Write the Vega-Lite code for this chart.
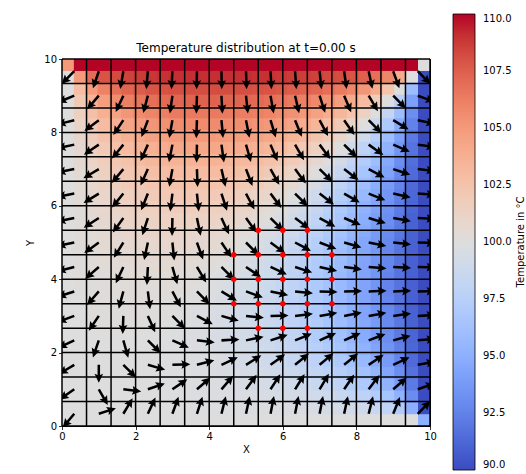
{
"$schema": "https://vega.github.io/schema/vega-lite/v6.json",
"width": 368, "height": 367,
"autosize": {"type": "none"},
"padding": {"left": 62, "top": 59, "right": 96, "bottom": 48},
"title": {"text": "Temperature distribution at t=0.00 s", "fontSize": 12, "font": "DejaVu Sans", "fontWeight": "normal", "color": "black", "anchor": "middle", "frame": "group", "offset": 0, "dy": 41},
"config": {"view": {"stroke": "black", "strokeWidth": 1, "fill": "#dddddd"}, "font": "DejaVu Sans"},
"datasets": {
"lines": [{"p":0},{"p":0.6667},{"p":1.3333},{"p":2},{"p":2.6667},{"p":3.3333},{"p":4},{"p":4.6667},{"p":5.3333},{"p":6},{"p":6.6667},{"p":7.3333},{"p":8},{"p":8.6667},{"p":9.3333},{"p":10}],
"dots": [{"x":5.3333,"y":5.3333},{"x":6,"y":5.3333},{"x":6.6667,"y":5.3333},
{"x":4.6667,"y":4.6667},{"x":5.3333,"y":4.6667},{"x":6,"y":4.6667},{"x":6.6667,"y":4.6667},{"x":7.3333,"y":4.6667},
{"x":4.6667,"y":4},{"x":5.3333,"y":4},{"x":6,"y":4},{"x":6.6667,"y":4},{"x":7.3333,"y":4},
{"x":4.6667,"y":3.3333},{"x":5.3333,"y":3.3333},{"x":6,"y":3.3333},{"x":6.6667,"y":3.3333},{"x":7.3333,"y":3.3333},
{"x":5.3333,"y":2.6667},{"x":6,"y":2.6667},{"x":6.6667,"y":2.6667}],
"arrows": [
{"x":0.3333,"y":0.3333,"a":220},{"x":1,"y":0.3333,"a":72},{"x":1.6667,"y":0.3333,"a":31},{"x":2.3333,"y":0.3333,"a":25},{"x":3,"y":0.3333,"a":20},{"x":3.6667,"y":0.3333,"a":18},{"x":4.3333,"y":0.3333,"a":14},{"x":5,"y":0.3333,"a":12},{"x":5.6667,"y":0.3333,"a":11},{"x":6.3333,"y":0.3333,"a":11},{"x":7,"y":0.3333,"a":11},{"x":7.6667,"y":0.3333,"a":12},{"x":8.3333,"y":0.3333,"a":14},{"x":9,"y":0.3333,"a":22},{"x":9.6667,"y":0.3333,"a":45},
{"x":0.3333,"y":1,"a":235},{"x":1,"y":1,"a":150},{"x":1.6667,"y":1,"a":97},{"x":2.3333,"y":1,"a":71},{"x":3,"y":1,"a":56},{"x":3.6667,"y":1,"a":49},{"x":4.3333,"y":1,"a":41},{"x":5,"y":1,"a":36},{"x":5.6667,"y":1,"a":33},{"x":6.3333,"y":1,"a":32},{"x":7,"y":1,"a":31},{"x":7.6667,"y":1,"a":34},{"x":8.3333,"y":1,"a":37},{"x":9,"y":1,"a":49},{"x":9.6667,"y":1,"a":71},
{"x":0.3333,"y":1.6667,"a":239},{"x":1,"y":1.6667,"a":180},{"x":1.6667,"y":1.6667,"a":135},{"x":2.3333,"y":1.6667,"a":106},{"x":3,"y":1.6667,"a":88},{"x":3.6667,"y":1.6667,"a":75},{"x":4.3333,"y":1.6667,"a":65},{"x":5,"y":1.6667,"a":58},{"x":5.6667,"y":1.6667,"a":54},{"x":6.3333,"y":1.6667,"a":51},{"x":7,"y":1.6667,"a":50},{"x":7.6667,"y":1.6667,"a":51},{"x":8.3333,"y":1.6667,"a":56},{"x":9,"y":1.6667,"a":65},{"x":9.6667,"y":1.6667,"a":80},
{"x":0.3333,"y":2.3333,"a":245},{"x":1,"y":2.3333,"a":199},{"x":1.6667,"y":2.3333,"a":164},{"x":2.3333,"y":2.3333,"a":135},{"x":3,"y":2.3333,"a":114},{"x":3.6667,"y":2.3333,"a":97},{"x":4.3333,"y":2.3333,"a":87},{"x":5,"y":2.3333,"a":78},{"x":5.6667,"y":2.3333,"a":72},{"x":6.3333,"y":2.3333,"a":68},{"x":7,"y":2.3333,"a":66},{"x":7.6667,"y":2.3333,"a":66},{"x":8.3333,"y":2.3333,"a":69},{"x":9,"y":2.3333,"a":75},{"x":9.6667,"y":2.3333,"a":85},
{"x":0.3333,"y":3,"a":250},{"x":1,"y":3,"a":214},{"x":1.6667,"y":3,"a":182},{"x":2.3333,"y":3,"a":156},{"x":3,"y":3,"a":135},{"x":3.6667,"y":3,"a":118},{"x":4.3333,"y":3,"a":106},{"x":5,"y":3,"a":96},{"x":5.6667,"y":3,"a":89},{"x":6.3333,"y":3,"a":83},{"x":7,"y":3,"a":80},{"x":7.6667,"y":3,"a":79},{"x":8.3333,"y":3,"a":80},{"x":9,"y":3,"a":82},{"x":9.6667,"y":3,"a":87},
{"x":0.3333,"y":3.6667,"a":252},{"x":1,"y":3.6667,"a":221},{"x":1.6667,"y":3.6667,"a":195},{"x":2.3333,"y":3.6667,"a":173},{"x":3,"y":3.6667,"a":152},{"x":3.6667,"y":3.6667,"a":135},{"x":4.3333,"y":3.6667,"a":121},{"x":5,"y":3.6667,"a":110},{"x":5.6667,"y":3.6667,"a":102},{"x":6.3333,"y":3.6667,"a":96},{"x":7,"y":3.6667,"a":92},{"x":7.6667,"y":3.6667,"a":89},{"x":8.3333,"y":3.6667,"a":88},{"x":9,"y":3.6667,"a":88},{"x":9.6667,"y":3.6667,"a":89},
{"x":0.3333,"y":4.3333,"a":256},{"x":1,"y":4.3333,"a":229},{"x":1.6667,"y":4.3333,"a":205},{"x":2.3333,"y":4.3333,"a":183},{"x":3,"y":4.3333,"a":164},{"x":3.6667,"y":4.3333,"a":149},{"x":4.3333,"y":4.3333,"a":135},{"x":5,"y":4.3333,"a":124},{"x":5.6667,"y":4.3333,"a":115},{"x":6.3333,"y":4.3333,"a":108},{"x":7,"y":4.3333,"a":103},{"x":7.6667,"y":4.3333,"a":98},{"x":8.3333,"y":4.3333,"a":95},{"x":9,"y":4.3333,"a":93},{"x":9.6667,"y":4.3333,"a":91},
{"x":0.3333,"y":5,"a":258},{"x":1,"y":5,"a":234},{"x":1.6667,"y":5,"a":212},{"x":2.3333,"y":5,"a":192},{"x":3,"y":5,"a":174},{"x":3.6667,"y":5,"a":160},{"x":4.3333,"y":5,"a":146},{"x":5,"y":5,"a":135},{"x":5.6667,"y":5,"a":126},{"x":6.3333,"y":5,"a":118},{"x":7,"y":5,"a":111},{"x":7.6667,"y":5,"a":106},{"x":8.3333,"y":5,"a":101},{"x":9,"y":5,"a":96},{"x":9.6667,"y":5,"a":92},
{"x":0.3333,"y":5.6667,"a":259},{"x":1,"y":5.6667,"a":237},{"x":1.6667,"y":5.6667,"a":216},{"x":2.3333,"y":5.6667,"a":198},{"x":3,"y":5.6667,"a":181},{"x":3.6667,"y":5.6667,"a":168},{"x":4.3333,"y":5.6667,"a":155},{"x":5,"y":5.6667,"a":144},{"x":5.6667,"y":5.6667,"a":135},{"x":6.3333,"y":5.6667,"a":127},{"x":7,"y":5.6667,"a":119},{"x":7.6667,"y":5.6667,"a":113},{"x":8.3333,"y":5.6667,"a":107},{"x":9,"y":5.6667,"a":100},{"x":9.6667,"y":5.6667,"a":93},
{"x":0.3333,"y":6.3333,"a":259},{"x":1,"y":6.3333,"a":238},{"x":1.6667,"y":6.3333,"a":219},{"x":2.3333,"y":6.3333,"a":202},{"x":3,"y":6.3333,"a":187},{"x":3.6667,"y":6.3333,"a":174},{"x":4.3333,"y":6.3333,"a":162},{"x":5,"y":6.3333,"a":152},{"x":5.6667,"y":6.3333,"a":143},{"x":6.3333,"y":6.3333,"a":135},{"x":7,"y":6.3333,"a":127},{"x":7.6667,"y":6.3333,"a":120},{"x":8.3333,"y":6.3333,"a":112},{"x":9,"y":6.3333,"a":103},{"x":9.6667,"y":6.3333,"a":94},
{"x":0.3333,"y":7,"a":259},{"x":1,"y":7,"a":239},{"x":1.6667,"y":7,"a":220},{"x":2.3333,"y":7,"a":204},{"x":3,"y":7,"a":190},{"x":3.6667,"y":7,"a":178},{"x":4.3333,"y":7,"a":167},{"x":5,"y":7,"a":159},{"x":5.6667,"y":7,"a":151},{"x":6.3333,"y":7,"a":143},{"x":7,"y":7,"a":135},{"x":7.6667,"y":7,"a":127},{"x":8.3333,"y":7,"a":118},{"x":9,"y":7,"a":108},{"x":9.6667,"y":7,"a":96},
{"x":0.3333,"y":7.6667,"a":258},{"x":1,"y":7.6667,"a":236},{"x":1.6667,"y":7.6667,"a":219},{"x":2.3333,"y":7.6667,"a":204},{"x":3,"y":7.6667,"a":191},{"x":3.6667,"y":7.6667,"a":181},{"x":4.3333,"y":7.6667,"a":172},{"x":5,"y":7.6667,"a":164},{"x":5.6667,"y":7.6667,"a":157},{"x":6.3333,"y":7.6667,"a":150},{"x":7,"y":7.6667,"a":143},{"x":7.6667,"y":7.6667,"a":135},{"x":8.3333,"y":7.6667,"a":125},{"x":9,"y":7.6667,"a":113},{"x":9.6667,"y":7.6667,"a":98},
{"x":0.3333,"y":8.3333,"a":256},{"x":1,"y":8.3333,"a":233},{"x":1.6667,"y":8.3333,"a":214},{"x":2.3333,"y":8.3333,"a":201},{"x":3,"y":8.3333,"a":190},{"x":3.6667,"y":8.3333,"a":182},{"x":4.3333,"y":8.3333,"a":175},{"x":5,"y":8.3333,"a":169},{"x":5.6667,"y":8.3333,"a":163},{"x":6.3333,"y":8.3333,"a":158},{"x":7,"y":8.3333,"a":152},{"x":7.6667,"y":8.3333,"a":145},{"x":8.3333,"y":8.3333,"a":135},{"x":9,"y":8.3333,"a":121},{"x":9.6667,"y":8.3333,"a":102},
{"x":0.3333,"y":9,"a":248},{"x":1,"y":9,"a":221},{"x":1.6667,"y":9,"a":205},{"x":2.3333,"y":9,"a":195},{"x":3,"y":9,"a":188},{"x":3.6667,"y":9,"a":182},{"x":4.3333,"y":9,"a":177},{"x":5,"y":9,"a":174},{"x":5.6667,"y":9,"a":170},{"x":6.3333,"y":9,"a":167},{"x":7,"y":9,"a":162},{"x":7.6667,"y":9,"a":157},{"x":8.3333,"y":9,"a":149},{"x":9,"y":9,"a":135},{"x":9.6667,"y":9,"a":110},
{"x":0.3333,"y":9.6667,"a":225},{"x":1,"y":9.6667,"a":199},{"x":1.6667,"y":9.6667,"a":190},{"x":2.3333,"y":9.6667,"a":185},{"x":3,"y":9.6667,"a":183},{"x":3.6667,"y":9.6667,"a":181},{"x":4.3333,"y":9.6667,"a":179},{"x":5,"y":9.6667,"a":178},{"x":5.6667,"y":9.6667,"a":177},{"x":6.3333,"y":9.6667,"a":176},{"x":7,"y":9.6667,"a":174},{"x":7.6667,"y":9.6667,"a":172},{"x":8.3333,"y":9.6667,"a":168},{"x":9,"y":9.6667,"a":160},{"x":9.6667,"y":9.6667,"a":135}
],
"cells": [
{"i":0,"j":0,"t":100},{"i":1,"j":0,"t":100},{"i":2,"j":0,"t":100},{"i":3,"j":0,"t":100},{"i":4,"j":0,"t":100},{"i":5,"j":0,"t":100},{"i":6,"j":0,"t":100},{"i":7,"j":0,"t":100},{"i":8,"j":0,"t":100},{"i":9,"j":0,"t":100},{"i":10,"j":0,"t":100},{"i":11,"j":0,"t":100},{"i":12,"j":0,"t":100},{"i":13,"j":0,"t":100},{"i":14,"j":0,"t":100},{"i":15,"j":0,"t":100},{"i":16,"j":0,"t":100},{"i":17,"j":0,"t":100},{"i":18,"j":0,"t":100},{"i":19,"j":0,"t":100},{"i":20,"j":0,"t":100},{"i":21,"j":0,"t":100},{"i":22,"j":0,"t":100},{"i":23,"j":0,"t":100},{"i":24,"j":0,"t":100},{"i":25,"j":0,"t":100},{"i":26,"j":0,"t":100},{"i":27,"j":0,"t":100},{"i":28,"j":0,"t":100},{"i":29,"j":0,"t":100},{"i":30,"j":0,"t":95},
{"i":0,"j":1,"t":100},{"i":1,"j":1,"t":100},{"i":2,"j":1,"t":100},{"i":3,"j":1,"t":100},{"i":4,"j":1,"t":100},{"i":5,"j":1,"t":100},{"i":6,"j":1,"t":100},{"i":7,"j":1,"t":100},{"i":8,"j":1,"t":100},{"i":9,"j":1,"t":100},{"i":10,"j":1,"t":100},{"i":11,"j":1,"t":99.9},{"i":12,"j":1,"t":99.9},{"i":13,"j":1,"t":99.9},{"i":14,"j":1,"t":99.9},{"i":15,"j":1,"t":99.8},{"i":16,"j":1,"t":99.8},{"i":17,"j":1,"t":99.8},{"i":18,"j":1,"t":99.7},{"i":19,"j":1,"t":99.6},{"i":20,"j":1,"t":99.6},{"i":21,"j":1,"t":99.5},{"i":22,"j":1,"t":99.4},{"i":23,"j":1,"t":99.3},{"i":24,"j":1,"t":99.1},{"i":25,"j":1,"t":98.9},{"i":26,"j":1,"t":98.5},{"i":27,"j":1,"t":98},{"i":28,"j":1,"t":97.1},{"i":29,"j":1,"t":95},{"i":30,"j":1,"t":90},
{"i":0,"j":2,"t":100},{"i":1,"j":2,"t":100},{"i":2,"j":2,"t":100},{"i":3,"j":2,"t":100},{"i":4,"j":2,"t":100},{"i":5,"j":2,"t":100},{"i":6,"j":2,"t":100},{"i":7,"j":2,"t":100},{"i":8,"j":2,"t":100},{"i":9,"j":2,"t":99.9},{"i":10,"j":2,"t":99.9},{"i":11,"j":2,"t":99.9},{"i":12,"j":2,"t":99.8},{"i":13,"j":2,"t":99.8},{"i":14,"j":2,"t":99.7},{"i":15,"j":2,"t":99.7},{"i":16,"j":2,"t":99.6},{"i":17,"j":2,"t":99.5},{"i":18,"j":2,"t":99.4},{"i":19,"j":2,"t":99.3},{"i":20,"j":2,"t":99.2},{"i":21,"j":2,"t":99},{"i":22,"j":2,"t":98.8},{"i":23,"j":2,"t":98.5},{"i":24,"j":2,"t":98.2},{"i":25,"j":2,"t":97.8},{"i":26,"j":2,"t":97.2},{"i":27,"j":2,"t":96.4},{"i":28,"j":2,"t":95.1},{"i":29,"j":2,"t":93},{"i":30,"j":2,"t":90},
{"i":0,"j":3,"t":100},{"i":1,"j":3,"t":100},{"i":2,"j":3,"t":100},{"i":3,"j":3,"t":100},{"i":4,"j":3,"t":100},{"i":5,"j":3,"t":100},{"i":6,"j":3,"t":100},{"i":7,"j":3,"t":100},{"i":8,"j":3,"t":99.9},{"i":9,"j":3,"t":99.9},{"i":10,"j":3,"t":99.9},{"i":11,"j":3,"t":99.8},{"i":12,"j":3,"t":99.8},{"i":13,"j":3,"t":99.7},{"i":14,"j":3,"t":99.6},{"i":15,"j":3,"t":99.5},{"i":16,"j":3,"t":99.4},{"i":17,"j":3,"t":99.3},{"i":18,"j":3,"t":99.2},{"i":19,"j":3,"t":99},{"i":20,"j":3,"t":98.8},{"i":21,"j":3,"t":98.5},{"i":22,"j":3,"t":98.3},{"i":23,"j":3,"t":97.9},{"i":24,"j":3,"t":97.4},{"i":25,"j":3,"t":96.9},{"i":26,"j":3,"t":96.2},{"i":27,"j":3,"t":95.2},{"i":28,"j":3,"t":93.9},{"i":29,"j":3,"t":92.1},{"i":30,"j":3,"t":90},
{"i":0,"j":4,"t":100},{"i":1,"j":4,"t":100},{"i":2,"j":4,"t":100},{"i":3,"j":4,"t":100},{"i":4,"j":4,"t":100},{"i":5,"j":4,"t":100},{"i":6,"j":4,"t":100},{"i":7,"j":4,"t":100},{"i":8,"j":4,"t":99.9},{"i":9,"j":4,"t":99.9},{"i":10,"j":4,"t":99.9},{"i":11,"j":4,"t":99.8},{"i":12,"j":4,"t":99.7},{"i":13,"j":4,"t":99.6},{"i":14,"j":4,"t":99.5},{"i":15,"j":4,"t":99.4},{"i":16,"j":4,"t":99.3},{"i":17,"j":4,"t":99.1},{"i":18,"j":4,"t":98.9},{"i":19,"j":4,"t":98.7},{"i":20,"j":4,"t":98.4},{"i":21,"j":4,"t":98.1},{"i":22,"j":4,"t":97.8},{"i":23,"j":4,"t":97.3},{"i":24,"j":4,"t":96.8},{"i":25,"j":4,"t":96.2},{"i":26,"j":4,"t":95.4},{"i":27,"j":4,"t":94.4},{"i":28,"j":4,"t":93.1},{"i":29,"j":4,"t":91.7},{"i":30,"j":4,"t":90},
{"i":0,"j":5,"t":100},{"i":1,"j":5,"t":100},{"i":2,"j":5,"t":100},{"i":3,"j":5,"t":100},{"i":4,"j":5,"t":100},{"i":5,"j":5,"t":100},{"i":6,"j":5,"t":100},{"i":7,"j":5,"t":100},{"i":8,"j":5,"t":99.9},{"i":9,"j":5,"t":99.9},{"i":10,"j":5,"t":99.8},{"i":11,"j":5,"t":99.8},{"i":12,"j":5,"t":99.7},{"i":13,"j":5,"t":99.6},{"i":14,"j":5,"t":99.4},{"i":15,"j":5,"t":99.3},{"i":16,"j":5,"t":99.1},{"i":17,"j":5,"t":98.9},{"i":18,"j":5,"t":98.7},{"i":19,"j":5,"t":98.4},{"i":20,"j":5,"t":98.1},{"i":21,"j":5,"t":97.8},{"i":22,"j":5,"t":97.4},{"i":23,"j":5,"t":96.9},{"i":24,"j":5,"t":96.3},{"i":25,"j":5,"t":95.6},{"i":26,"j":5,"t":94.8},{"i":27,"j":5,"t":93.8},{"i":28,"j":5,"t":92.7},{"i":29,"j":5,"t":91.4},{"i":30,"j":5,"t":90},
{"i":0,"j":6,"t":100},{"i":1,"j":6,"t":100},{"i":2,"j":6,"t":100},{"i":3,"j":6,"t":100},{"i":4,"j":6,"t":100},{"i":5,"j":6,"t":100},{"i":6,"j":6,"t":100},{"i":7,"j":6,"t":100},{"i":8,"j":6,"t":99.9},{"i":9,"j":6,"t":99.9},{"i":10,"j":6,"t":99.8},{"i":11,"j":6,"t":99.8},{"i":12,"j":6,"t":99.6},{"i":13,"j":6,"t":99.5},{"i":14,"j":6,"t":99.4},{"i":15,"j":6,"t":99.2},{"i":16,"j":6,"t":99},{"i":17,"j":6,"t":98.8},{"i":18,"j":6,"t":98.5},{"i":19,"j":6,"t":98.2},{"i":20,"j":6,"t":97.9},{"i":21,"j":6,"t":97.5},{"i":22,"j":6,"t":97},{"i":23,"j":6,"t":96.5},{"i":24,"j":6,"t":95.9},{"i":25,"j":6,"t":95.2},{"i":26,"j":6,"t":94.3},{"i":27,"j":6,"t":93.4},{"i":28,"j":6,"t":92.4},{"i":29,"j":6,"t":91.2},{"i":30,"j":6,"t":90},
{"i":0,"j":7,"t":100},{"i":1,"j":7,"t":100},{"i":2,"j":7,"t":100},{"i":3,"j":7,"t":100},{"i":4,"j":7,"t":100},{"i":5,"j":7,"t":100},{"i":6,"j":7,"t":100},{"i":7,"j":7,"t":100},{"i":8,"j":7,"t":100},{"i":9,"j":7,"t":99.9},{"i":10,"j":7,"t":99.8},{"i":11,"j":7,"t":99.8},{"i":12,"j":7,"t":99.6},{"i":13,"j":7,"t":99.5},{"i":14,"j":7,"t":99.3},{"i":15,"j":7,"t":99.2},{"i":16,"j":7,"t":98.9},{"i":17,"j":7,"t":98.7},{"i":18,"j":7,"t":98.4},{"i":19,"j":7,"t":98.1},{"i":20,"j":7,"t":97.7},{"i":21,"j":7,"t":97.2},{"i":22,"j":7,"t":96.7},{"i":23,"j":7,"t":96.2},{"i":24,"j":7,"t":95.5},{"i":25,"j":7,"t":94.8},{"i":26,"j":7,"t":94},{"i":27,"j":7,"t":93.1},{"i":28,"j":7,"t":92.1},{"i":29,"j":7,"t":91.1},{"i":30,"j":7,"t":90},
{"i":0,"j":8,"t":100},{"i":1,"j":8,"t":100},{"i":2,"j":8,"t":100},{"i":3,"j":8,"t":100.1},{"i":4,"j":8,"t":100.1},{"i":5,"j":8,"t":100.1},{"i":6,"j":8,"t":100.1},{"i":7,"j":8,"t":100},{"i":8,"j":8,"t":100},{"i":9,"j":8,"t":99.9},{"i":10,"j":8,"t":99.9},{"i":11,"j":8,"t":99.8},{"i":12,"j":8,"t":99.7},{"i":13,"j":8,"t":99.5},{"i":14,"j":8,"t":99.3},{"i":15,"j":8,"t":99.1},{"i":16,"j":8,"t":98.9},{"i":17,"j":8,"t":98.6},{"i":18,"j":8,"t":98.3},{"i":19,"j":8,"t":97.9},{"i":20,"j":8,"t":97.5},{"i":21,"j":8,"t":97.1},{"i":22,"j":8,"t":96.5},{"i":23,"j":8,"t":96},{"i":24,"j":8,"t":95.3},{"i":25,"j":8,"t":94.6},{"i":26,"j":8,"t":93.8},{"i":27,"j":8,"t":92.9},{"i":28,"j":8,"t":92},{"i":29,"j":8,"t":91},{"i":30,"j":8,"t":90},
{"i":0,"j":9,"t":100},{"i":1,"j":9,"t":100},{"i":2,"j":9,"t":100.1},{"i":3,"j":9,"t":100.1},{"i":4,"j":9,"t":100.1},{"i":5,"j":9,"t":100.1},{"i":6,"j":9,"t":100.1},{"i":7,"j":9,"t":100.1},{"i":8,"j":9,"t":100.1},{"i":9,"j":9,"t":100},{"i":10,"j":9,"t":99.9},{"i":11,"j":9,"t":99.8},{"i":12,"j":9,"t":99.7},{"i":13,"j":9,"t":99.5},{"i":14,"j":9,"t":99.4},{"i":15,"j":9,"t":99.1},{"i":16,"j":9,"t":98.9},{"i":17,"j":9,"t":98.6},{"i":18,"j":9,"t":98.2},{"i":19,"j":9,"t":97.9},{"i":20,"j":9,"t":97.4},{"i":21,"j":9,"t":96.9},{"i":22,"j":9,"t":96.4},{"i":23,"j":9,"t":95.8},{"i":24,"j":9,"t":95.1},{"i":25,"j":9,"t":94.4},{"i":26,"j":9,"t":93.6},{"i":27,"j":9,"t":92.8},{"i":28,"j":9,"t":91.9},{"i":29,"j":9,"t":91},{"i":30,"j":9,"t":90},
{"i":0,"j":10,"t":100},{"i":1,"j":10,"t":100},{"i":2,"j":10,"t":100.1},{"i":3,"j":10,"t":100.1},{"i":4,"j":10,"t":100.1},{"i":5,"j":10,"t":100.2},{"i":6,"j":10,"t":100.2},{"i":7,"j":10,"t":100.2},{"i":8,"j":10,"t":100.1},{"i":9,"j":10,"t":100.1},{"i":10,"j":10,"t":100},{"i":11,"j":10,"t":99.9},{"i":12,"j":10,"t":99.8},{"i":13,"j":10,"t":99.6},{"i":14,"j":10,"t":99.4},{"i":15,"j":10,"t":99.2},{"i":16,"j":10,"t":98.9},{"i":17,"j":10,"t":98.6},{"i":18,"j":10,"t":98.2},{"i":19,"j":10,"t":97.8},{"i":20,"j":10,"t":97.4},{"i":21,"j":10,"t":96.9},{"i":22,"j":10,"t":96.3},{"i":23,"j":10,"t":95.7},{"i":24,"j":10,"t":95},{"i":25,"j":10,"t":94.3},{"i":26,"j":10,"t":93.5},{"i":27,"j":10,"t":92.7},{"i":28,"j":10,"t":91.8},{"i":29,"j":10,"t":90.9},{"i":30,"j":10,"t":90},
{"i":0,"j":11,"t":100},{"i":1,"j":11,"t":100.1},{"i":2,"j":11,"t":100.1},{"i":3,"j":11,"t":100.2},{"i":4,"j":11,"t":100.2},{"i":5,"j":11,"t":100.2},{"i":6,"j":11,"t":100.2},{"i":7,"j":11,"t":100.2},{"i":8,"j":11,"t":100.2},{"i":9,"j":11,"t":100.2},{"i":10,"j":11,"t":100.1},{"i":11,"j":11,"t":100},{"i":12,"j":11,"t":99.9},{"i":13,"j":11,"t":99.7},{"i":14,"j":11,"t":99.5},{"i":15,"j":11,"t":99.3},{"i":16,"j":11,"t":99},{"i":17,"j":11,"t":98.7},{"i":18,"j":11,"t":98.3},{"i":19,"j":11,"t":97.9},{"i":20,"j":11,"t":97.4},{"i":21,"j":11,"t":96.9},{"i":22,"j":11,"t":96.3},{"i":23,"j":11,"t":95.7},{"i":24,"j":11,"t":95},{"i":25,"j":11,"t":94.3},{"i":26,"j":11,"t":93.5},{"i":27,"j":11,"t":92.6},{"i":28,"j":11,"t":91.8},{"i":29,"j":11,"t":90.9},{"i":30,"j":11,"t":90},
{"i":0,"j":12,"t":100},{"i":1,"j":12,"t":100.1},{"i":2,"j":12,"t":100.2},{"i":3,"j":12,"t":100.2},{"i":4,"j":12,"t":100.3},{"i":5,"j":12,"t":100.3},{"i":6,"j":12,"t":100.4},{"i":7,"j":12,"t":100.4},{"i":8,"j":12,"t":100.3},{"i":9,"j":12,"t":100.3},{"i":10,"j":12,"t":100.2},{"i":11,"j":12,"t":100.1},{"i":12,"j":12,"t":100},{"i":13,"j":12,"t":99.8},{"i":14,"j":12,"t":99.6},{"i":15,"j":12,"t":99.4},{"i":16,"j":12,"t":99.1},{"i":17,"j":12,"t":98.8},{"i":18,"j":12,"t":98.4},{"i":19,"j":12,"t":97.9},{"i":20,"j":12,"t":97.4},{"i":21,"j":12,"t":96.9},{"i":22,"j":12,"t":96.3},{"i":23,"j":12,"t":95.7},{"i":24,"j":12,"t":95},{"i":25,"j":12,"t":94.3},{"i":26,"j":12,"t":93.5},{"i":27,"j":12,"t":92.6},{"i":28,"j":12,"t":91.8},{"i":29,"j":12,"t":90.9},{"i":30,"j":12,"t":90},
{"i":0,"j":13,"t":100},{"i":1,"j":13,"t":100.1},{"i":2,"j":13,"t":100.2},{"i":3,"j":13,"t":100.3},{"i":4,"j":13,"t":100.4},{"i":5,"j":13,"t":100.4},{"i":6,"j":13,"t":100.5},{"i":7,"j":13,"t":100.5},{"i":8,"j":13,"t":100.5},{"i":9,"j":13,"t":100.5},{"i":10,"j":13,"t":100.4},{"i":11,"j":13,"t":100.3},{"i":12,"j":13,"t":100.2},{"i":13,"j":13,"t":100},{"i":14,"j":13,"t":99.8},{"i":15,"j":13,"t":99.5},{"i":16,"j":13,"t":99.2},{"i":17,"j":13,"t":98.9},{"i":18,"j":13,"t":98.5},{"i":19,"j":13,"t":98.1},{"i":20,"j":13,"t":97.6},{"i":21,"j":13,"t":97},{"i":22,"j":13,"t":96.4},{"i":23,"j":13,"t":95.8},{"i":24,"j":13,"t":95.1},{"i":25,"j":13,"t":94.3},{"i":26,"j":13,"t":93.5},{"i":27,"j":13,"t":92.7},{"i":28,"j":13,"t":91.8},{"i":29,"j":13,"t":90.9},{"i":30,"j":13,"t":90},
{"i":0,"j":14,"t":100},{"i":1,"j":14,"t":100.1},{"i":2,"j":14,"t":100.3},{"i":3,"j":14,"t":100.4},{"i":4,"j":14,"t":100.5},{"i":5,"j":14,"t":100.6},{"i":6,"j":14,"t":100.6},{"i":7,"j":14,"t":100.7},{"i":8,"j":14,"t":100.7},{"i":9,"j":14,"t":100.6},{"i":10,"j":14,"t":100.6},{"i":11,"j":14,"t":100.5},{"i":12,"j":14,"t":100.4},{"i":13,"j":14,"t":100.2},{"i":14,"j":14,"t":100},{"i":15,"j":14,"t":99.7},{"i":16,"j":14,"t":99.4},{"i":17,"j":14,"t":99.1},{"i":18,"j":14,"t":98.7},{"i":19,"j":14,"t":98.2},{"i":20,"j":14,"t":97.7},{"i":21,"j":14,"t":97.2},{"i":22,"j":14,"t":96.6},{"i":23,"j":14,"t":95.9},{"i":24,"j":14,"t":95.2},{"i":25,"j":14,"t":94.4},{"i":26,"j":14,"t":93.6},{"i":27,"j":14,"t":92.7},{"i":28,"j":14,"t":91.8},{"i":29,"j":14,"t":90.9},{"i":30,"j":14,"t":90},
{"i":0,"j":15,"t":100},{"i":1,"j":15,"t":100.2},{"i":2,"j":15,"t":100.3},{"i":3,"j":15,"t":100.5},{"i":4,"j":15,"t":100.6},{"i":5,"j":15,"t":100.7},{"i":6,"j":15,"t":100.8},{"i":7,"j":15,"t":100.8},{"i":8,"j":15,"t":100.9},{"i":9,"j":15,"t":100.9},{"i":10,"j":15,"t":100.8},{"i":11,"j":15,"t":100.7},{"i":12,"j":15,"t":100.6},{"i":13,"j":15,"t":100.5},{"i":14,"j":15,"t":100.3},{"i":15,"j":15,"t":100},{"i":16,"j":15,"t":99.7},{"i":17,"j":15,"t":99.3},{"i":18,"j":15,"t":98.9},{"i":19,"j":15,"t":98.5},{"i":20,"j":15,"t":98},{"i":21,"j":15,"t":97.4},{"i":22,"j":15,"t":96.8},{"i":23,"j":15,"t":96.1},{"i":24,"j":15,"t":95.3},{"i":25,"j":15,"t":94.5},{"i":26,"j":15,"t":93.7},{"i":27,"j":15,"t":92.8},{"i":28,"j":15,"t":91.9},{"i":29,"j":15,"t":91},{"i":30,"j":15,"t":90},
{"i":0,"j":16,"t":100},{"i":1,"j":16,"t":100.2},{"i":2,"j":16,"t":100.4},{"i":3,"j":16,"t":100.6},{"i":4,"j":16,"t":100.7},{"i":5,"j":16,"t":100.9},{"i":6,"j":16,"t":101},{"i":7,"j":16,"t":101.1},{"i":8,"j":16,"t":101.1},{"i":9,"j":16,"t":101.1},{"i":10,"j":16,"t":101.1},{"i":11,"j":16,"t":101},{"i":12,"j":16,"t":100.9},{"i":13,"j":16,"t":100.8},{"i":14,"j":16,"t":100.6},{"i":15,"j":16,"t":100.3},{"i":16,"j":16,"t":100},{"i":17,"j":16,"t":99.6},{"i":18,"j":16,"t":99.2},{"i":19,"j":16,"t":98.8},{"i":20,"j":16,"t":98.2},{"i":21,"j":16,"t":97.7},{"i":22,"j":16,"t":97},{"i":23,"j":16,"t":96.3},{"i":24,"j":16,"t":95.5},{"i":25,"j":16,"t":94.7},{"i":26,"j":16,"t":93.8},{"i":27,"j":16,"t":92.9},{"i":28,"j":16,"t":92},{"i":29,"j":16,"t":91},{"i":30,"j":16,"t":90},
{"i":0,"j":17,"t":100},{"i":1,"j":17,"t":100.2},{"i":2,"j":17,"t":100.5},{"i":3,"j":17,"t":100.7},{"i":4,"j":17,"t":100.9},{"i":5,"j":17,"t":101.1},{"i":6,"j":17,"t":101.2},{"i":7,"j":17,"t":101.3},{"i":8,"j":17,"t":101.4},{"i":9,"j":17,"t":101.4},{"i":10,"j":17,"t":101.4},{"i":11,"j":17,"t":101.3},{"i":12,"j":17,"t":101.2},{"i":13,"j":17,"t":101.1},{"i":14,"j":17,"t":100.9},{"i":15,"j":17,"t":100.7},{"i":16,"j":17,"t":100.4},{"i":17,"j":17,"t":100},{"i":18,"j":17,"t":99.6},{"i":19,"j":17,"t":99.1},{"i":20,"j":17,"t":98.6},{"i":21,"j":17,"t":98},{"i":22,"j":17,"t":97.3},{"i":23,"j":17,"t":96.6},{"i":24,"j":17,"t":95.8},{"i":25,"j":17,"t":94.9},{"i":26,"j":17,"t":94},{"i":27,"j":17,"t":93.1},{"i":28,"j":17,"t":92.1},{"i":29,"j":17,"t":91},{"i":30,"j":17,"t":90},
{"i":0,"j":18,"t":100},{"i":1,"j":18,"t":100.3},{"i":2,"j":18,"t":100.6},{"i":3,"j":18,"t":100.8},{"i":4,"j":18,"t":101.1},{"i":5,"j":18,"t":101.3},{"i":6,"j":18,"t":101.5},{"i":7,"j":18,"t":101.6},{"i":8,"j":18,"t":101.7},{"i":9,"j":18,"t":101.8},{"i":10,"j":18,"t":101.8},{"i":11,"j":18,"t":101.7},{"i":12,"j":18,"t":101.6},{"i":13,"j":18,"t":101.5},{"i":14,"j":18,"t":101.3},{"i":15,"j":18,"t":101.1},{"i":16,"j":18,"t":100.8},{"i":17,"j":18,"t":100.4},{"i":18,"j":18,"t":100},{"i":19,"j":18,"t":99.5},{"i":20,"j":18,"t":99},{"i":21,"j":18,"t":98.4},{"i":22,"j":18,"t":97.7},{"i":23,"j":18,"t":96.9},{"i":24,"j":18,"t":96.1},{"i":25,"j":18,"t":95.2},{"i":26,"j":18,"t":94.3},{"i":27,"j":18,"t":93.3},{"i":28,"j":18,"t":92.2},{"i":29,"j":18,"t":91.1},{"i":30,"j":18,"t":90},
{"i":0,"j":19,"t":100},{"i":1,"j":19,"t":100.4},{"i":2,"j":19,"t":100.7},{"i":3,"j":19,"t":101},{"i":4,"j":19,"t":101.3},{"i":5,"j":19,"t":101.6},{"i":6,"j":19,"t":101.8},{"i":7,"j":19,"t":101.9},{"i":8,"j":19,"t":102.1},{"i":9,"j":19,"t":102.1},{"i":10,"j":19,"t":102.2},{"i":11,"j":19,"t":102.1},{"i":12,"j":19,"t":102.1},{"i":13,"j":19,"t":101.9},{"i":14,"j":19,"t":101.8},{"i":15,"j":19,"t":101.5},{"i":16,"j":19,"t":101.2},{"i":17,"j":19,"t":100.9},{"i":18,"j":19,"t":100.5},{"i":19,"j":19,"t":100},{"i":20,"j":19,"t":99.5},{"i":21,"j":19,"t":98.8},{"i":22,"j":19,"t":98.1},{"i":23,"j":19,"t":97.4},{"i":24,"j":19,"t":96.5},{"i":25,"j":19,"t":95.6},{"i":26,"j":19,"t":94.6},{"i":27,"j":19,"t":93.5},{"i":28,"j":19,"t":92.4},{"i":29,"j":19,"t":91.2},{"i":30,"j":19,"t":90},
{"i":0,"j":20,"t":100},{"i":1,"j":20,"t":100.4},{"i":2,"j":20,"t":100.8},{"i":3,"j":20,"t":101.2},{"i":4,"j":20,"t":101.6},{"i":5,"j":20,"t":101.9},{"i":6,"j":20,"t":102.1},{"i":7,"j":20,"t":102.3},{"i":8,"j":20,"t":102.5},{"i":9,"j":20,"t":102.6},{"i":10,"j":20,"t":102.6},{"i":11,"j":20,"t":102.6},{"i":12,"j":20,"t":102.6},{"i":13,"j":20,"t":102.4},{"i":14,"j":20,"t":102.3},{"i":15,"j":20,"t":102},{"i":16,"j":20,"t":101.8},{"i":17,"j":20,"t":101.4},{"i":18,"j":20,"t":101},{"i":19,"j":20,"t":100.6},{"i":20,"j":20,"t":100},{"i":21,"j":20,"t":99.4},{"i":22,"j":20,"t":98.7},{"i":23,"j":20,"t":97.9},{"i":24,"j":20,"t":97},{"i":25,"j":20,"t":96},{"i":26,"j":20,"t":94.9},{"i":27,"j":20,"t":93.8},{"i":28,"j":20,"t":92.6},{"i":29,"j":20,"t":91.3},{"i":30,"j":20,"t":90},
{"i":0,"j":21,"t":100},{"i":1,"j":21,"t":100.5},{"i":2,"j":21,"t":101},{"i":3,"j":21,"t":101.5},{"i":4,"j":21,"t":101.9},{"i":5,"j":21,"t":102.2},{"i":6,"j":21,"t":102.5},{"i":7,"j":21,"t":102.8},{"i":8,"j":21,"t":102.9},{"i":9,"j":21,"t":103.1},{"i":10,"j":21,"t":103.1},{"i":11,"j":21,"t":103.1},{"i":12,"j":21,"t":103.1},{"i":13,"j":21,"t":103},{"i":14,"j":21,"t":102.8},{"i":15,"j":21,"t":102.6},{"i":16,"j":21,"t":102.4},{"i":17,"j":21,"t":102},{"i":18,"j":21,"t":101.6},{"i":19,"j":21,"t":101.2},{"i":20,"j":21,"t":100.6},{"i":21,"j":21,"t":100},{"i":22,"j":21,"t":99.3},{"i":23,"j":21,"t":98.5},{"i":24,"j":21,"t":97.6},{"i":25,"j":21,"t":96.5},{"i":26,"j":21,"t":95.4},{"i":27,"j":21,"t":94.2},{"i":28,"j":21,"t":92.8},{"i":29,"j":21,"t":91.4},{"i":30,"j":21,"t":90},
{"i":0,"j":22,"t":100},{"i":1,"j":22,"t":100.6},{"i":2,"j":22,"t":101.2},{"i":3,"j":22,"t":101.7},{"i":4,"j":22,"t":102.2},{"i":5,"j":22,"t":102.6},{"i":6,"j":22,"t":103},{"i":7,"j":22,"t":103.3},{"i":8,"j":22,"t":103.5},{"i":9,"j":22,"t":103.6},{"i":10,"j":22,"t":103.7},{"i":11,"j":22,"t":103.7},{"i":12,"j":22,"t":103.7},{"i":13,"j":22,"t":103.6},{"i":14,"j":22,"t":103.4},{"i":15,"j":22,"t":103.2},{"i":16,"j":22,"t":103},{"i":17,"j":22,"t":102.7},{"i":18,"j":22,"t":102.3},{"i":19,"j":22,"t":101.9},{"i":20,"j":22,"t":101.3},{"i":21,"j":22,"t":100.7},{"i":22,"j":22,"t":100},{"i":23,"j":22,"t":99.2},{"i":24,"j":22,"t":98.2},{"i":25,"j":22,"t":97.2},{"i":26,"j":22,"t":96},{"i":27,"j":22,"t":94.6},{"i":28,"j":22,"t":93.1},{"i":29,"j":22,"t":91.6},{"i":30,"j":22,"t":90},
{"i":0,"j":23,"t":100},{"i":1,"j":23,"t":100.7},{"i":2,"j":23,"t":101.5},{"i":3,"j":23,"t":102.1},{"i":4,"j":23,"t":102.7},{"i":5,"j":23,"t":103.1},{"i":6,"j":23,"t":103.5},{"i":7,"j":23,"t":103.8},{"i":8,"j":23,"t":104},{"i":9,"j":23,"t":104.2},{"i":10,"j":23,"t":104.3},{"i":11,"j":23,"t":104.3},{"i":12,"j":23,"t":104.3},{"i":13,"j":23,"t":104.2},{"i":14,"j":23,"t":104.1},{"i":15,"j":23,"t":103.9},{"i":16,"j":23,"t":103.7},{"i":17,"j":23,"t":103.4},{"i":18,"j":23,"t":103.1},{"i":19,"j":23,"t":102.6},{"i":20,"j":23,"t":102.1},{"i":21,"j":23,"t":101.5},{"i":22,"j":23,"t":100.8},{"i":23,"j":23,"t":100},{"i":24,"j":23,"t":99},{"i":25,"j":23,"t":97.9},{"i":26,"j":23,"t":96.6},{"i":27,"j":23,"t":95.2},{"i":28,"j":23,"t":93.6},{"i":29,"j":23,"t":91.8},{"i":30,"j":23,"t":90},
{"i":0,"j":24,"t":100},{"i":1,"j":24,"t":100.9},{"i":2,"j":24,"t":101.8},{"i":3,"j":24,"t":102.6},{"i":4,"j":24,"t":103.2},{"i":5,"j":24,"t":103.7},{"i":6,"j":24,"t":104.1},{"i":7,"j":24,"t":104.5},{"i":8,"j":24,"t":104.7},{"i":9,"j":24,"t":104.9},{"i":10,"j":24,"t":105},{"i":11,"j":24,"t":105},{"i":12,"j":24,"t":105},{"i":13,"j":24,"t":104.9},{"i":14,"j":24,"t":104.8},{"i":15,"j":24,"t":104.7},{"i":16,"j":24,"t":104.5},{"i":17,"j":24,"t":104.2},{"i":18,"j":24,"t":103.9},{"i":19,"j":24,"t":103.5},{"i":20,"j":24,"t":103},{"i":21,"j":24,"t":102.4},{"i":22,"j":24,"t":101.8},{"i":23,"j":24,"t":101},{"i":24,"j":24,"t":100},{"i":25,"j":24,"t":98.9},{"i":26,"j":24,"t":97.5},{"i":27,"j":24,"t":95.9},{"i":28,"j":24,"t":94.1},{"i":29,"j":24,"t":92.1},{"i":30,"j":24,"t":90},
{"i":0,"j":25,"t":100},{"i":1,"j":25,"t":101.1},{"i":2,"j":25,"t":102.2},{"i":3,"j":25,"t":103.1},{"i":4,"j":25,"t":103.8},{"i":5,"j":25,"t":104.4},{"i":6,"j":25,"t":104.8},{"i":7,"j":25,"t":105.2},{"i":8,"j":25,"t":105.4},{"i":9,"j":25,"t":105.6},{"i":10,"j":25,"t":105.7},{"i":11,"j":25,"t":105.7},{"i":12,"j":25,"t":105.7},{"i":13,"j":25,"t":105.7},{"i":14,"j":25,"t":105.6},{"i":15,"j":25,"t":105.5},{"i":16,"j":25,"t":105.3},{"i":17,"j":25,"t":105.1},{"i":18,"j":25,"t":104.8},{"i":19,"j":25,"t":104.4},{"i":20,"j":25,"t":104},{"i":21,"j":25,"t":103.5},{"i":22,"j":25,"t":102.8},{"i":23,"j":25,"t":102.1},{"i":24,"j":25,"t":101.1},{"i":25,"j":25,"t":100},{"i":26,"j":25,"t":98.6},{"i":27,"j":25,"t":96.9},{"i":28,"j":25,"t":94.8},{"i":29,"j":25,"t":92.5},{"i":30,"j":25,"t":90},
{"i":0,"j":26,"t":100},{"i":1,"j":26,"t":101.5},{"i":2,"j":26,"t":102.8},{"i":3,"j":26,"t":103.8},{"i":4,"j":26,"t":104.6},{"i":5,"j":26,"t":105.2},{"i":6,"j":26,"t":105.7},{"i":7,"j":26,"t":106},{"i":8,"j":26,"t":106.2},{"i":9,"j":26,"t":106.4},{"i":10,"j":26,"t":106.5},{"i":11,"j":26,"t":106.5},{"i":12,"j":26,"t":106.5},{"i":13,"j":26,"t":106.5},{"i":14,"j":26,"t":106.4},{"i":15,"j":26,"t":106.3},{"i":16,"j":26,"t":106.2},{"i":17,"j":26,"t":106},{"i":18,"j":26,"t":105.7},{"i":19,"j":26,"t":105.4},{"i":20,"j":26,"t":105.1},{"i":21,"j":26,"t":104.6},{"i":22,"j":26,"t":104},{"i":23,"j":26,"t":103.4},{"i":24,"j":26,"t":102.5},{"i":25,"j":26,"t":101.4},{"i":26,"j":26,"t":100},{"i":27,"j":26,"t":98.2},{"i":28,"j":26,"t":95.9},{"i":29,"j":26,"t":93.1},{"i":30,"j":26,"t":90},
{"i":0,"j":27,"t":100},{"i":1,"j":27,"t":102},{"i":2,"j":27,"t":103.6},{"i":3,"j":27,"t":104.8},{"i":4,"j":27,"t":105.6},{"i":5,"j":27,"t":106.2},{"i":6,"j":27,"t":106.6},{"i":7,"j":27,"t":106.9},{"i":8,"j":27,"t":107.1},{"i":9,"j":27,"t":107.2},{"i":10,"j":27,"t":107.3},{"i":11,"j":27,"t":107.4},{"i":12,"j":27,"t":107.4},{"i":13,"j":27,"t":107.3},{"i":14,"j":27,"t":107.3},{"i":15,"j":27,"t":107.2},{"i":16,"j":27,"t":107.1},{"i":17,"j":27,"t":106.9},{"i":18,"j":27,"t":106.7},{"i":19,"j":27,"t":106.5},{"i":20,"j":27,"t":106.2},{"i":21,"j":27,"t":105.8},{"i":22,"j":27,"t":105.4},{"i":23,"j":27,"t":104.8},{"i":24,"j":27,"t":104.1},{"i":25,"j":27,"t":103.1},{"i":26,"j":27,"t":101.8},{"i":27,"j":27,"t":100},{"i":28,"j":27,"t":97.5},{"i":29,"j":27,"t":94.1},{"i":30,"j":27,"t":90},
{"i":0,"j":28,"t":100},{"i":1,"j":28,"t":102.9},{"i":2,"j":28,"t":104.9},{"i":3,"j":28,"t":106.1},{"i":4,"j":28,"t":106.9},{"i":5,"j":28,"t":107.3},{"i":6,"j":28,"t":107.6},{"i":7,"j":28,"t":107.9},{"i":8,"j":28,"t":108},{"i":9,"j":28,"t":108.1},{"i":10,"j":28,"t":108.2},{"i":11,"j":28,"t":108.2},{"i":12,"j":28,"t":108.2},{"i":13,"j":28,"t":108.2},{"i":14,"j":28,"t":108.2},{"i":15,"j":28,"t":108.1},{"i":16,"j":28,"t":108},{"i":17,"j":28,"t":107.9},{"i":18,"j":28,"t":107.8},{"i":19,"j":28,"t":107.6},{"i":20,"j":28,"t":107.4},{"i":21,"j":28,"t":107.2},{"i":22,"j":28,"t":106.9},{"i":23,"j":28,"t":106.4},{"i":24,"j":28,"t":105.9},{"i":25,"j":28,"t":105.2},{"i":26,"j":28,"t":104.1},{"i":27,"j":28,"t":102.5},{"i":28,"j":28,"t":100},{"i":29,"j":28,"t":95.9},{"i":30,"j":28,"t":90},
{"i":0,"j":29,"t":100},{"i":1,"j":29,"t":105},{"i":2,"j":29,"t":107},{"i":3,"j":29,"t":107.9},{"i":4,"j":29,"t":108.3},{"i":5,"j":29,"t":108.6},{"i":6,"j":29,"t":108.8},{"i":7,"j":29,"t":108.9},{"i":8,"j":29,"t":109},{"i":9,"j":29,"t":109.1},{"i":10,"j":29,"t":109.1},{"i":11,"j":29,"t":109.1},{"i":12,"j":29,"t":109.1},{"i":13,"j":29,"t":109.1},{"i":14,"j":29,"t":109.1},{"i":15,"j":29,"t":109.1},{"i":16,"j":29,"t":109},{"i":17,"j":29,"t":109},{"i":18,"j":29,"t":108.9},{"i":19,"j":29,"t":108.8},{"i":20,"j":29,"t":108.7},{"i":21,"j":29,"t":108.6},{"i":22,"j":29,"t":108.4},{"i":23,"j":29,"t":108.2},{"i":24,"j":29,"t":107.9},{"i":25,"j":29,"t":107.5},{"i":26,"j":29,"t":106.9},{"i":27,"j":29,"t":105.9},{"i":28,"j":29,"t":104.1},{"i":29,"j":29,"t":100},{"i":30,"j":29,"t":90},
{"i":0,"j":30,"t":105},{"i":1,"j":30,"t":110},{"i":2,"j":30,"t":110},{"i":3,"j":30,"t":110},{"i":4,"j":30,"t":110},{"i":5,"j":30,"t":110},{"i":6,"j":30,"t":110},{"i":7,"j":30,"t":110},{"i":8,"j":30,"t":110},{"i":9,"j":30,"t":110},{"i":10,"j":30,"t":110},{"i":11,"j":30,"t":110},{"i":12,"j":30,"t":110},{"i":13,"j":30,"t":110},{"i":14,"j":30,"t":110},{"i":15,"j":30,"t":110},{"i":16,"j":30,"t":110},{"i":17,"j":30,"t":110},{"i":18,"j":30,"t":110},{"i":19,"j":30,"t":110},{"i":20,"j":30,"t":110},{"i":21,"j":30,"t":110},{"i":22,"j":30,"t":110},{"i":23,"j":30,"t":110},{"i":24,"j":30,"t":110},{"i":25,"j":30,"t":110},{"i":26,"j":30,"t":110},{"i":27,"j":30,"t":110},{"i":28,"j":30,"t":110},{"i":29,"j":30,"t":110},{"i":30,"j":30,"t":100}
]
},
"layer": [
{
"data": {"name": "cells"},
"encoding": {
"x": {"field": "i", "type": "ordinal", "axis": null, "scale": {"paddingInner": 0, "paddingOuter": 0}},
"y": {"field": "j", "type": "ordinal", "axis": null, "sort": "descending", "scale": {"paddingInner": 0, "paddingOuter": 0}},
"color": {"field": "t", "type": "quantitative",
"scale": {"domain": [90,91.25,92.5,93.75,95,96.25,97.5,98.75,100,101.25,102.5,103.75,105,106.25,107.5,108.75,110], "range": ["#3b4cc0","#4d68d7","#6282ea","#779af7","#8db0fe","#a3c2ff","#b8d0f9","#ccd9ee","#dddddd","#ecd3c5","#f5c4ac","#f7b193","#f49a7b","#ec7f63","#de604d","#cb3e38","#b40426"], "interpolate": "rgb"},
"legend": {"type": "gradient", "orient": "none", "legendX": 391, "legendY": -45, "direction": "vertical", "gradientLength": 456, "gradientThickness": 22, "gradientStrokeColor": "black", "gradientStrokeWidth": 0.8, "values": [90,92.5,95,97.5,100,102.5,105,107.5,110], "format": ".1f", "labelFont": "DejaVu Sans", "labelFontSize": 10, "labelColor": "black", "labelOffset": 8, "labelOverlap": false, "labelBaseline": "middle", "title": "Temperature in °C", "titleOrient": "right", "titleFont": "DejaVu Sans", "titleFontSize": 10, "titleFontWeight": "normal", "titleColor": "black", "titleAnchor": "middle", "titlePadding": 14, "encode": {"title": {"update": {"angle": {"value": 270}}}}}}
},
"layer": [{"mark": {"type": "rect"}}, {"mark": {"type": "rect"}}, {"mark": {"type": "rect"}}]
},
{
"layer": [
{"data": {"name": "lines"}, "mark": {"type": "rule", "color": "black", "strokeWidth": 1.5},
"encoding": {"x": {"field": "p", "type": "quantitative", "scale": {"domain": [0,10], "nice": false, "zero": false},
"axis": {"orient": "bottom", "values": [0,2,4,6,8,10], "title": "X", "grid": false, "labelFont": "DejaVu Sans", "labelFontSize": 10, "labelColor": "black", "titleFont": "DejaVu Sans", "titleFontSize": 10, "titleFontWeight": "normal", "titleColor": "black", "tickColor": "black", "tickSize": 3.5, "tickWidth": 0.8, "domainColor": "black", "labelPadding": 2, "titlePadding": 3, "labelFlush": false, "labelAngle": 0}}}},
{"data": {"name": "lines"}, "mark": {"type": "rule", "color": "black", "strokeWidth": 1.5},
"encoding": {"y": {"field": "p", "type": "quantitative", "scale": {"domain": [0,10], "nice": false, "zero": false},
"axis": {"orient": "left", "values": [0,2,4,6,8,10], "title": "Y", "grid": false, "labelFont": "DejaVu Sans", "labelFontSize": 10, "labelColor": "black", "titleFont": "DejaVu Sans", "titleFontSize": 10, "titleFontWeight": "normal", "titleColor": "black", "tickColor": "black", "tickSize": 3.5, "tickWidth": 0.8, "domainColor": "black", "labelPadding": 2, "titlePadding": 8, "labelFlush": false}}}},
{"data": {"name": "arrows"}, "mark": {"type": "point", "shape": "M-0.07,0L-0.07,-0.56L-0.24,-0.5L0,-1L0.24,-0.5L0.07,-0.56L0.07,0Z", "filled": true, "color": "black", "opacity": 1, "size": 1296, "strokeWidth": 0, "clip": true},
"encoding": {"x": {"field": "x", "type": "quantitative"}, "y": {"field": "y", "type": "quantitative"}, "angle": {"field": "a", "type": "quantitative", "scale": null}}},
{"data": {"name": "dots"}, "mark": {"type": "circle", "color": "#ff0000", "opacity": 1, "size": 30},
"encoding": {"x": {"field": "x", "type": "quantitative"}, "y": {"field": "y", "type": "quantitative"}}}
]
}
],
"resolve": {"scale": {"x": "independent", "y": "independent"}}
}
